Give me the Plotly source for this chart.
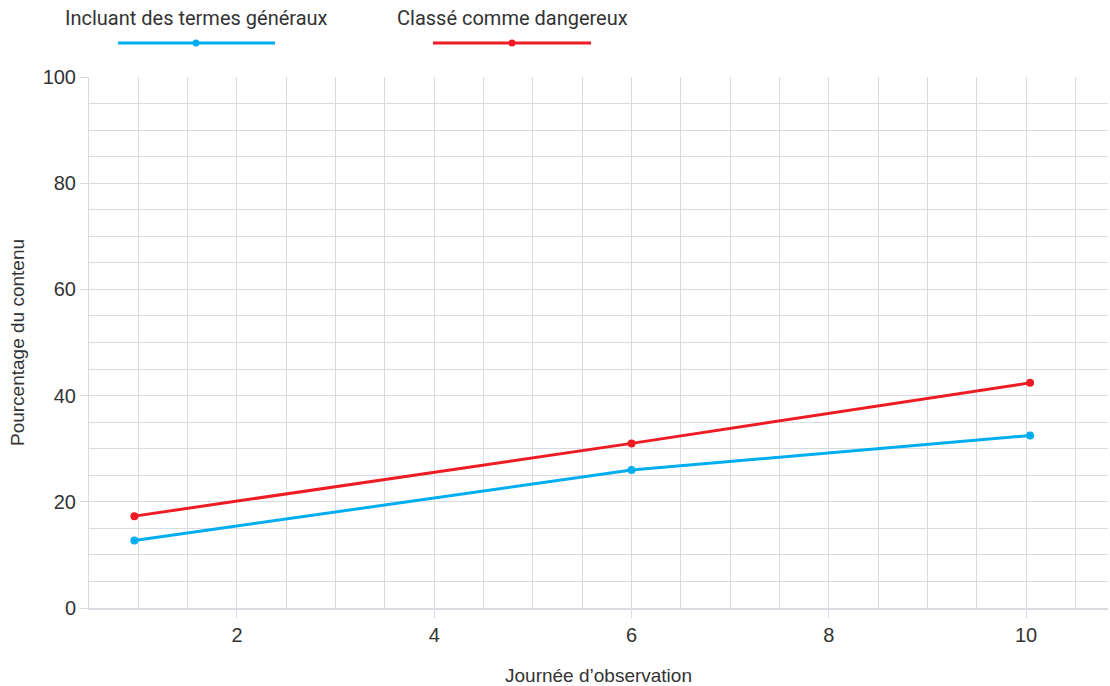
import plotly.graph_objects as go

days = [0.96, 6, 10.04]
general_terms = [12.7, 26.0, 32.5]
dangerous = [17.3, 31.0, 42.4]
series_names = ["Incluant des termes généraux", "Classé comme dangereux"]
x_ticks = [2, 4, 6, 8, 10]
y_ticks = [0, 20, 40, 60, 80, 100]

BLUE = "#00AEEF"
RED = "#ED1C24"
GRID = "#D8DCE1"
TEXT = "#333333"

fig = go.Figure()
fig.add_trace(go.Scatter(x=days, y=general_terms, mode="lines+markers",
                         name=series_names[0],
                         line=dict(color=BLUE, width=3),
                         marker=dict(color=BLUE, size=8)))
fig.add_trace(go.Scatter(x=days, y=dangerous, mode="lines+markers",
                         name=series_names[1],
                         line=dict(color=RED, width=3),
                         marker=dict(color=RED, size=8)))

PL, PT, PW, PH = 89, 77, 1019, 531

# custom legend (text above a line with a dot)
legend_items = [
    (series_names[0], BLUE, 196, 118, 275),
    (series_names[1], RED, 512, 433, 591),
]
for name, col, cx, x0, x1 in legend_items:
    fig.add_annotation(text=name, xref="paper", yref="paper",
                       x=(cx - PL) / PW, y=1 + (PT - 18) / PH,
                       xanchor="center", yanchor="middle", showarrow=False,
                       font=dict(family="Roboto, sans-serif", size=20, color=TEXT))
    ly = 1 + (PT - 43) / PH
    fig.add_shape(type="line", xref="paper", yref="paper",
                  x0=(x0 - PL) / PW, x1=(x1 - PL) / PW,
                  y0=ly, y1=ly, line=dict(color=col, width=3))
    px = (cx - PL) / PW
    fig.add_shape(type="circle", xref="paper", yref="paper",
                  x0=px - 3.5 / PW, x1=px + 3.5 / PW,
                  y0=ly - 3.5 / PH, y1=ly + 3.5 / PH,
                  fillcolor=col, line=dict(color=col, width=0))

fig.update_layout(
    width=1110, height=686,
    margin=dict(l=PL, r=1110 - PL - PW, t=PT, b=686 - PT - PH),
    paper_bgcolor="white", plot_bgcolor="white",
    showlegend=False,
    font=dict(family="Liberation Sans, Arial, sans-serif", color=TEXT),
)
fig.update_xaxes(
    range=[0.5, 10.83],
    tickvals=x_ticks,
    ticks="outside", ticklen=8, tickcolor=GRID, tickwidth=1,
    showgrid=True, gridcolor=GRID, gridwidth=1,
    minor=dict(dtick=0.5, tick0=0, showgrid=True, gridcolor=GRID, gridwidth=1),
    showline=True, linecolor=GRID, linewidth=2,
    zeroline=False,
    tickfont=dict(size=20, color=TEXT),
    title=dict(text="Journée d’observation", font=dict(size=19, color=TEXT), standoff=24),
)
fig.update_yaxes(
    range=[0, 100],
    tickvals=y_ticks,
    ticks="outside", ticklen=8, tickcolor=GRID, tickwidth=1,
    showgrid=True, gridcolor=GRID, gridwidth=1,
    minor=dict(dtick=5, tick0=0, showgrid=True, gridcolor=GRID, gridwidth=1),
    showline=True, linecolor=GRID, linewidth=1,
    zeroline=False,
    tickfont=dict(size=20, color=TEXT),
    title=dict(text="Pourcentage du contenu", font=dict(size=19, color=TEXT), standoff=12),
)

fig.write_html("out.html", config={"displayModeBar": False},
               post_script="document.body.style.margin='0';document.body.style.overflow='hidden';")
